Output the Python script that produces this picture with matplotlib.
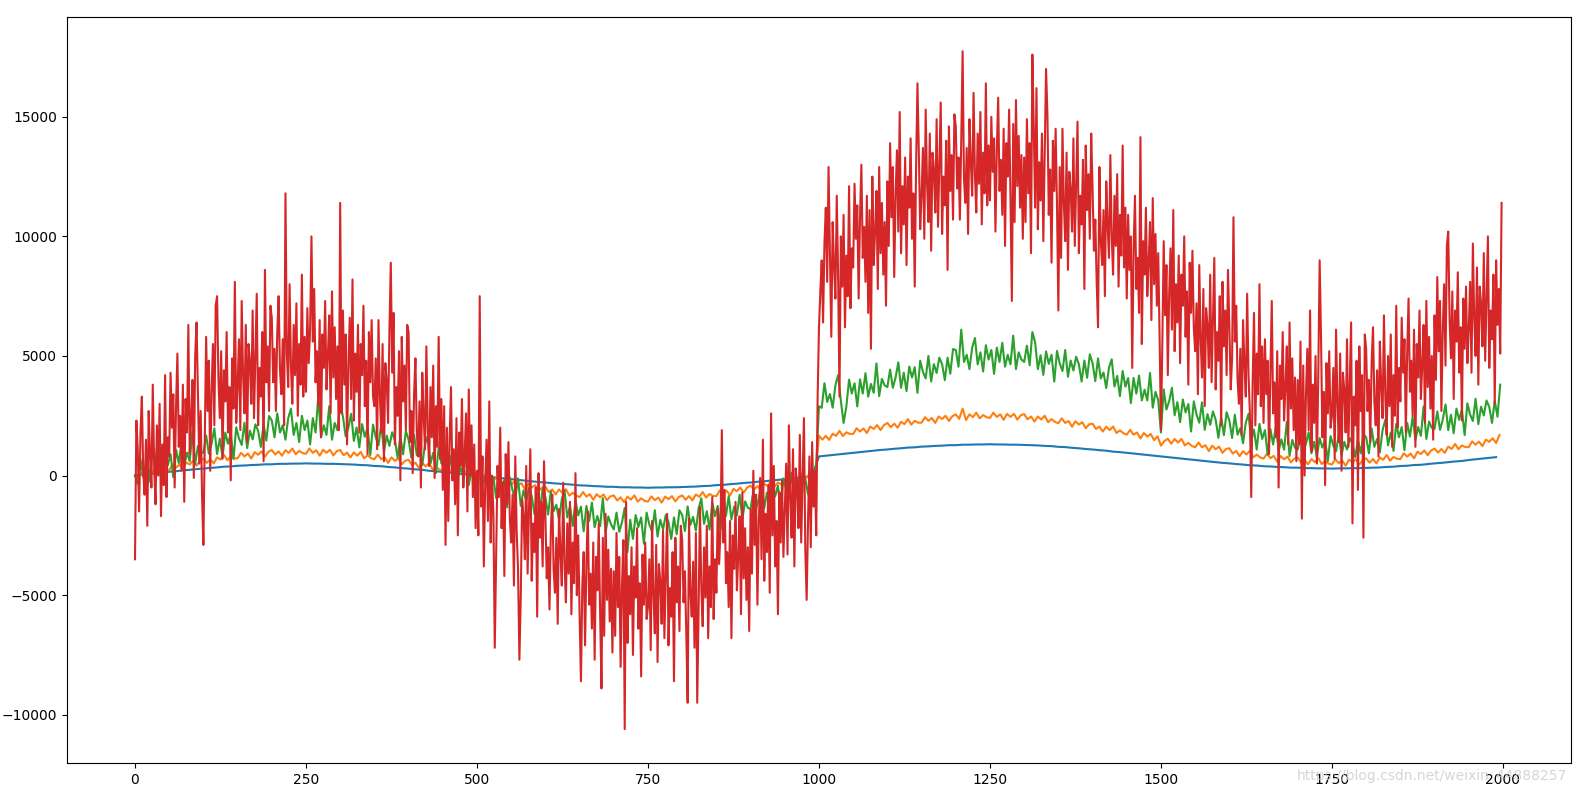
import numpy as np
import matplotlib
matplotlib.use("Agg")
import matplotlib.pyplot as plt

# sample positions of the four series
x_red = np.arange(0, 2000, 2)
x_green = np.arange(0, 2000, 4)
x_orange = np.arange(0, 2000, 5)
x_blue = np.arange(0, 2000, 10)

# values (estimated), one line per 50 x-units
red = [
    -3500, 2300, 1100, -1500, 1800, 3300, 200, -800, 1500, -2100, 2700, 900, -500, 3800, 400, -1200, 2100, 0, 3000, -1700, 1300, -400, 4200, -900, 1600,
    800, 4300, 2000, 3400, -500, 2900, 5100, 1200, 2500, 200, 3800, -1100, 3200, 1800, 6300, 900, 2300, 4000, -100, 5000, 6400, 3500, 500, 2700, -800,
    -2900, 1500, 5800, 2700, 4800, 200, 3600, 5500, 2100, 7100, 7500, 4000, 2400, 5200, 700, 4400, 3100, 6000, 1800, 3700, -200, 4900, 2800, 8100, 2200,
    3700, 5700, 1900, 7300, 4200, 2600, 6300, 1400, 5500, 4800, 3000, 6900, 2400, 5100, 7600, 2100, 4500, 3300, 6000, 600, 8600, 3900, 5400, 2700, 7100,
    6600, 3900, 5300, 2700, 6000, 7500, 4400, 3400, 5700, 2100, 11800, 5100, 3700, 8000, 4600, 3000, 6300, 4200, 7200, 2500, 5500, 3800, 8400, 3300, 5800,
    3500, 7000, 4700, 6100, 10000, 5600, 7800, 3900, 5200, 2900, 6500, 1600, 5900, 4500, 7300, 3600, 5000, 6700, 2600, 7700, 4100, 6200, 3200, 5400, 1900,
    11400, 2600, 6900, 3800, 5900, 1300, 4700, 6600, 3200, 8200, 2300, 5100, 3500, 6300, 1800, 5500, 4200, 7100, 2900, 4800, 900, 6000, 3900, 6500, 3300,
    2900, 4900, 1100, 6500, 3400, 1800, 5500, 600, 4700, 4000, 2200, 6100, 8900, 4300, 6800, 1300, 3700, 2500, 5200, -200, 5800, 3100, 4600, 1900, 6300,
    6000, 1400, 2700, 100, 3400, 4900, 1800, 800, 3100, -500, 4300, 2500, 1100, 5400, 2000, 400, 3700, 1600, 4600, -100, 2900, 1200, 5800, 700, 3200,
    -600, 2900, -2900, 2000, -1900, 1500, 3700, -200, 1100, -1200, 2400, -2500, 1800, 400, 3200, -500, 900, 2600, -1500, 3600, 0, 2100, -900, 1300, -2200,
    200, -2500, 7500, -1300, 800, -3800, -400, 1500, -1900, 3100, -2800, 0, -1600, -7200, -3300, 400, -900, 2000, -2200, -300, -4200, 900, -1200, 1400, -1800,
    -2800, -800, -4600, 800, -2300, -3900, -7700, -5100, -1000, -1700, -3500, 400, -4100, -1400, 1100, -4400, -2000, -3200, -500, -5900, 100, -2600, -1100, -3800, 600,
    -1700, -4300, -3000, -5600, -2300, -800, -3900, -4900, -2600, -6200, -1400, -3200, -4600, -300, -3700, -5300, -2000, -4100, -1100, -5800, -2800, -4500, 100, -5000, -2500,
    -5800, -8600, -4600, -3200, -7100, -3700, -1500, -5400, -4100, -6400, -2800, -7700, -3400, -4800, -2000, -5700, -8900, -2600, -6700, -1600, -5200, -3100, -6100, -3900, -7400,
    -4000, -6700, -2400, -5500, -3400, -8000, -4600, -2700, -10600, -1100, -7000, -4200, -5800, -3000, -7500, -3800, -5100, -2200, -6400, -4500, -8400, -3300, -5400, -2800, -6000,
    -5500, -3500, -7300, -1900, -5000, -6600, -2900, -7800, -3700, -4400, -6200, -2300, -6800, -4100, -1600, -7100, -4700, -5900, -3200, -8600, -2600, -5300, -3800, -6500, -2100,
    -2700, -5300, -4000, -6600, -9500, -1800, -4900, -5900, -3600, -7200, -2400, -9500, -5600, -1300, -4700, -6300, -3000, -5100, -2100, -6800, -3800, -5500, -900, -6000, -3500,
    -4900, -1400, -3700, -2300, 1900, -2800, -600, -4500, -3200, -5500, -1900, -6800, -2500, -3900, -1100, -4800, -3400, -1700, -5800, -700, -4300, -2200, -5200, -3000, -6500,
    -1400, -4100, 200, -2900, -800, -5400, -2000, -100, -3500, 1500, -4400, -1600, -3200, -400, -4900, 2600, -2500, 400, -3800, -1900, -5800, -700, -2800, -200, -3400,
    -1500, 500, -3300, 2100, -1000, -2600, 1100, -3800, 300, -400, -2200, 1700, -2800, -100, 2400, -3100, -5200, -1900, 800, -3000, 1400, -1300, 200, -2500, 3200,
    6200, 7700, 9000, 6400, 9700, 11200, 8100, 12900, 9400, 5800, 10600, 8800, 7400, 11700, 8300, 3300, 10000, 7900, 10900, 6200, 9200, 7500, 12100, 7000, 9500,
    8700, 12200, 9900, 11300, 7400, 10800, 13000, 9100, 10400, 8100, 11700, 6800, 11100, 5300, 12500, 8800, 10200, 11900, 7800, 12900, 9300, 11400, 8400, 10600, 7100,
    12300, 9600, 13900, 10800, 12900, 8300, 11700, 13600, 10200, 15200, 9300, 12100, 10500, 13300, 8800, 12500, 11200, 14100, 9900, 11800, 7900, 13000, 16400, 13500, 10300,
    11700, 13700, 9900, 15300, 12200, 10600, 14300, 9400, 13500, 12800, 11000, 14900, 10400, 13100, 15600, 10100, 12500, 11300, 14000, 8600, 14600, 11900, 13400, 10700, 15100,
    14600, 12000, 13300, 10700, 14000, 17740, 12400, 11400, 13700, 10100, 14900, 13100, 11700, 16000, 12600, 11000, 14300, 12200, 15200, 10500, 13500, 11800, 16400, 11300, 13800,
    11500, 15000, 12700, 14100, 10200, 13600, 15800, 11900, 13200, 10900, 14500, 9600, 13900, 12500, 15300, 11600, 7300, 14700, 10600, 15700, 12100, 14200, 11200, 13400, 9900,
    13300, 10600, 14900, 11800, 13900, 9300, 17600, 14600, 11200, 16200, 10300, 13100, 11500, 14300, 9800, 13500, 17000, 15100, 10900, 12800, 8900, 14000, 11900, 14500, 11300,
    6900, 12900, 9100, 14500, 11400, 9800, 13500, 8600, 12700, 12000, 10200, 14100, 9600, 12300, 14800, 9300, 11700, 10500, 13200, 7800, 13800, 11100, 12600, 9900, 14300,
    12000, 9400, 10700, 8100, 6200, 12900, 9800, 8800, 11100, 7500, 12300, 10500, 9100, 13400, 10000, 8400, 11700, 9600, 12600, 7900, 10900, 9200, 13800, 8700, 11200,
    7400, 10900, 8600, 10000, 4500, 9500, 11700, 7800, 9100, 6800, 14150, 5500, 9800, 8400, 11200, 7500, 8900, 10600, 6500, 11600, 8000, 10100, 7100, 9300, 5800,
    1900, 5500, 9800, 6700, 8800, 4200, 7600, 9500, 6100, 11100, 5200, 8000, 6400, 9200, 4700, 8400, 7100, 10000, 5800, 7700, 3800, 8900, 6800, 9400, 6200,
    5200, 7200, 3400, 8800, 5700, 4100, 7800, 2900, 7000, 6300, 4500, 8400, 3900, 6600, 9100, 3600, 6000, 4800, 7500, 2100, 8100, 5400, 6900, 4200, 8600,
    6200, 3600, 4900, 10800, 5600, 7100, 4000, 3000, 5300, 1700, 6500, 4700, 3300, 7600, 4200, 2600, -900, 3800, 6800, 2100, 5100, 3400, 8000, 2900, 5400,
    2200, 5700, 3400, 4800, 900, 4300, 7300, 2600, 3900, 1600, 5200, -500, 4600, 3200, 6000, 2300, 3700, 5400, 1300, 6400, 2800, 4900, 1900, 4100, 600,
    4000, 1300, 5600, -1800, 4600, 0, 3400, 5300, 1900, 6900, 1000, 3800, 2200, 5000, 500, 4200, 9000, 5800, 1600, 3500, -400, 4700, 2600, 5200, 2000,
    2500, 4500, 700, 6100, 3000, 1400, 5100, 200, 4300, 3600, 1800, 5700, 1200, 3900, 6400, -2000, 3300, 2100, 4800, -600, 5400, 2700, 4200, -2600, 5900,
    5300, 2700, 4000, 1400, 4700, 6200, 3100, 2100, 4400, 800, 5600, 3800, 2400, 6700, 3300, 1700, 5000, 2900, 5900, 1200, 4200, 2500, 7100, 2000, 4500,
    3100, 6600, 4300, 5700, 1800, 5200, 7400, 3500, 4800, 2500, 6100, 1200, 5500, 4100, 6900, 3200, 4600, 6300, 2200, 7300, 3700, 5800, 2800, 5000, 1500,
    6700, 4000, 8300, 5200, 7300, 2700, 6100, 8000, 4600, 9600, 10200, 6500, 4900, 7700, 3200, 6900, 5600, 8500, 4300, 6200, 2300, 7400, 5300, 7900, 4700,
    6100, 8100, 4300, 9700, 6600, 5000, 8700, 3800, 7900, 7200, 5400, 9300, 4800, 7500, 10000, 4500, 6900, 5700, 8400, 3000, 9000, 6300, 7800, 5100, 11400,
]

# one line per 100 x-units
green = [
    0, -350, 690, -70, 280, -280, 670, 1100, 60, 600, -150, 1000, 440, 890, -70, 1080, 520, 1370, 410, 960, 600, 1850, 490, 1240, 980,
    950, 1680, 910, 1340, 1970, 900, 1540, 770, 1800, 1330, 1760, 690, 2020, 1550, 1280, 2210, 1150, 1880, 1510, 2140, 1870, 1200, 2130, 1460, 2490,
    2300, 1600, 2600, 1800, 2100, 1500, 2400, 2800, 1700, 2200, 1400, 2500, 1900, 2300, 1300, 2400, 1800, 3300, 1600, 2100, 1700, 2900, 1500, 2200, 1900,
    3000, 2470, 1640, 2010, 2580, 1450, 2010, 1180, 2150, 1620, 1990, 860, 2130, 1600, 1270, 2140, 1000, 1670, 1240, 1810, 1480, 750, 1620, 890, 1860,
    1500, 750, 1700, 850, 1100, 450, 1300, 1650, 500, 950, 100, 1150, 500, 850, -200, 850, 200, 950, -100, 350, -100, 1050, -400, 250, -100,
    -200, 450, -400, -40, 510, -640, -90, -940, 20, -530, -180, -1330, -80, -620, -970, -120, -1270, -620, -1060, -510, -860, -1610, -760, -1500, -550,
    -900, -1630, -660, -1490, -1220, -1860, -990, -620, -1750, -1280, -2110, -1040, -1670, -1300, -2330, -1270, -1900, -1130, -2160, -1690, -2120, -950, -2380, -1710, -2040,
    -2250, -1550, -2350, -1950, -1350, -3200, -1850, -2650, -1650, -2150, -1750, -2850, -1550, -2050, -2350, -1450, -2550, -1850, -2250, -1650, -1950, -2650, -1750, -2450, -1450,
    -1650, -2320, -1290, -2060, -1730, -2300, -1380, -950, -2020, -1490, -2260, -1130, -1700, -1270, -2240, -1110, -1690, -860, -1830, -1300, -1670, -800, -1810, -1080, -1350,
    -1400, -650, -1400, -960, -310, -1360, -710, -1460, -420, -870, -420, -1470, -120, -580, -830, 120, -930, -180, -540, 110, -140, -790, 160, -500, 550,
    2900, 2830, 3860, 3080, 3410, 2840, 3770, 4200, 3120, 2200, 2880, 4010, 3430, 3860, 2890, 4020, 3430, 4280, 3300, 3830, 3460, 4690, 3320, 4040, 3770,
    3700, 4430, 3670, 4100, 4730, 3670, 4300, 3530, 4560, 4100, 4530, 3460, 4800, 4330, 4060, 5000, 3930, 4660, 4290, 4930, 4660, 3990, 4930, 4260, 5290,
    5250, 4550, 6100, 4750, 5050, 4450, 5350, 5750, 4650, 5150, 4350, 5450, 4850, 5250, 4250, 5350, 4750, 5550, 4550, 5050, 4650, 5850, 4450, 5150, 4850,
    4750, 5430, 4610, 6000, 5570, 4450, 5030, 4210, 5190, 4670, 5050, 3930, 5210, 4690, 4370, 5250, 4130, 4810, 4390, 4970, 4650, 3930, 4810, 4090, 5070,
    4700, 3950, 4900, 4060, 4310, 3660, 4510, 4860, 3720, 4170, 3320, 4370, 3720, 4080, 3030, 4080, 3430, 4180, 3140, 3590, 3140, 4290, 2840, 3500, 3150,
    1800, 3600, 2760, 3110, 3670, 2520, 3070, 2230, 3180, 2640, 2990, 1840, 3100, 2550, 2210, 3060, 1910, 2570, 2120, 2680, 2330, 1580, 2440, 1690, 2650,
    2300, 1570, 2540, 1710, 1980, 1350, 2210, 2580, 1450, 1920, 1090, 2160, 1530, 1900, 870, 1940, 1300, 2070, 1040, 1510, 1080, 2250, 820, 1490, 1160,
    1090, 1650, 1010, 1330, 1810, 930, 1410, 770, 1570, 1170, 1490, 610, 1650, 1250, 1010, 1730, 850, 1410, 1090, 1570, 1330, 770, 1490, 930, 1730,
    1600, 930, 1970, 1200, 1530, 970, 1900, 2330, 1260, 1800, 1030, 2160, 1600, 2030, 1060, 2200, 1630, 2460, 1490, 2030, 1660, 2890, 1530, 2260, 1990,
    1950, 2680, 1910, 2340, 2970, 1900, 2540, 1770, 2800, 2330, 2760, 1690, 3020, 2550, 2280, 3210, 2150, 2880, 2510, 3140, 2870, 2200, 3130, 2460, 3800,
]

# one line per 100 x-units
orange = [
    0, -50, 110, -50, 210, 120, 330, 110, 280, 210, 220, 470, 330, 460, 270, 550, 460, 620, 410, 620,
    710, 530, 680, 510, 760, 670, 870, 640, 800, 720, 720, 950, 800, 920, 710, 980, 870, 1010, 790, 990,
    1070, 880, 1010, 830, 1060, 950, 1130, 890, 1030, 940, 910, 1130, 950, 1060, 830, 1080, 950, 1080, 840, 1020,
    1070, 850, 960, 760, 970, 830, 990, 720, 850, 730, 680, 880, 680, 770, 530, 760, 610, 720, 470, 620,
    660, 430, 540, 320, 530, 380, 530, 260, 370, 250, 190, 380, 180, 270, 20, 240, 90, 190, -60, 90,
    120, -110, -10, -230, -30, -190, -40, -320, -210, -340, -400, -210, -410, -320, -570, -350, -500, -400, -650, -500,
    -470, -690, -580, -790, -580, -730, -570, -840, -720, -840, -900, -690, -880, -780, -1010, -780, -910, -790, -1030, -870,
    -830, -1040, -910, -1110, -880, -1010, -830, -1090, -950, -1060, -1090, -870, -1030, -920, -1130, -880, -990, -860, -1080, -900,
    -830, -1010, -860, -1040, -790, -890, -690, -920, -770, -850, -860, -620, -760, -630, -830, -560, -650, -500, -710, -500,
    -420, -590, -440, -600, -350, -440, -230, -460, -290, -370, -370, -120, -260, -130, -320, -40, -130, 30, -180, 30,
    1670, 1500, 1660, 1490, 1750, 1660, 1870, 1650, 1810, 1740, 1740, 1980, 1840, 1970, 1780, 2050, 1950, 2110, 1900, 2110,
    2200, 2020, 2170, 2000, 2250, 2150, 2360, 2130, 2290, 2210, 2210, 2440, 2290, 2410, 2200, 2470, 2360, 2500, 2280, 2480,
    2560, 2370, 2800, 2320, 2560, 2440, 2630, 2390, 2530, 2440, 2410, 2630, 2450, 2560, 2330, 2580, 2450, 2580, 2340, 2520,
    2570, 2350, 2470, 2260, 2470, 2340, 2500, 2230, 2360, 2240, 2190, 2390, 2200, 2280, 2040, 2270, 2130, 2230, 1980, 2140,
    2170, 1950, 2050, 1840, 2040, 1900, 2050, 1780, 1890, 1770, 1710, 1910, 1710, 1800, 1550, 1780, 1630, 1740, 1480, 1640,
    1250, 1440, 1540, 1330, 1530, 1380, 1530, 1260, 1370, 1240, 1180, 1380, 1180, 1270, 1020, 1250, 1100, 1210, 950, 1110,
    1140, 920, 1030, 810, 1020, 880, 1040, 760, 880, 760, 710, 910, 730, 820, 580, 820, 680, 790, 550, 710,
    750, 540, 660, 470, 690, 560, 730, 480, 610, 500, 460, 680, 520, 630, 410, 670, 550, 680, 460, 640,
    720, 540, 690, 510, 760, 660, 860, 620, 780, 700, 690, 930, 790, 920, 720, 1000, 900, 1050, 850, 1050,
    1130, 960, 1110, 950, 1210, 1110, 1320, 1100, 1260, 1190, 1190, 1430, 1290, 1420, 1230, 1500, 1410, 1560, 1360, 1700,
]

# one line per 100 x-units
blue = [
    0, 40, 50, 100, 120, 160, 180, 220, 240, 270,
    290, 320, 340, 370, 380, 410, 420, 440, 450, 470,
    470, 490, 490, 500, 500, 510, 500, 500, 490, 490,
    480, 470, 460, 440, 430, 400, 390, 360, 340, 310,
    290, 260, 240, 200, 180, 150, 120, 90, 60, 30,
    0, -30, -60, -90, -120, -150, -180, -210, -240, -270,
    -290, -320, -340, -360, -380, -410, -420, -440, -450, -470,
    -470, -490, -490, -500, -500, -510, -500, -500, -490, -490,
    -480, -470, -460, -440, -430, -400, -390, -360, -340, -310,
    -290, -260, -240, -210, -180, -150, -120, -90, -60, -30,
    800, 830, 860, 890, 920, 950, 980, 1010, 1040, 1070,
    1090, 1120, 1140, 1170, 1180, 1210, 1220, 1240, 1250, 1270,
    1270, 1290, 1290, 1300, 1300, 1310, 1300, 1300, 1290, 1290,
    1280, 1270, 1260, 1240, 1230, 1200, 1190, 1160, 1140, 1110,
    1090, 1060, 1040, 1000, 980, 950, 920, 890, 860, 830,
    800, 770, 740, 710, 680, 650, 620, 590, 560, 530,
    510, 480, 460, 430, 420, 390, 380, 360, 350, 330,
    330, 310, 310, 300, 300, 290, 300, 300, 310, 310,
    320, 330, 340, 360, 370, 400, 410, 440, 450, 480,
    510, 530, 560, 590, 610, 650, 680, 710, 740, 770,
]

fig = plt.figure(figsize=(15.79, 7.94), dpi=100)
ax = fig.add_axes([0.0422, 0.039, 0.9525, 0.9392])

ax.plot(x_blue, blue, color="#1f77b4")
ax.plot(x_orange, orange, color="#ff7f0e")
ax.plot(x_green, green, color="#2ca02c")
ax.plot(x_red, red, color="#d62728")

ax.set_xlim(-99.95, 2098.95)
ax.set_ylim(-12020, 19160)
ax.set_xticks([0, 250, 500, 750, 1000, 1250, 1500, 1750, 2000])
ax.set_yticks([-10000, -5000, 0, 5000, 10000, 15000])

# csdn watermark
fig.text(0.821, 0.0176, "https://blog.csdn.net/weixin_44888257",
         fontsize=10, color="#cfcfcf", alpha=0.85, va="baseline", zorder=10)

fig.savefig("out.png", dpi=100)
